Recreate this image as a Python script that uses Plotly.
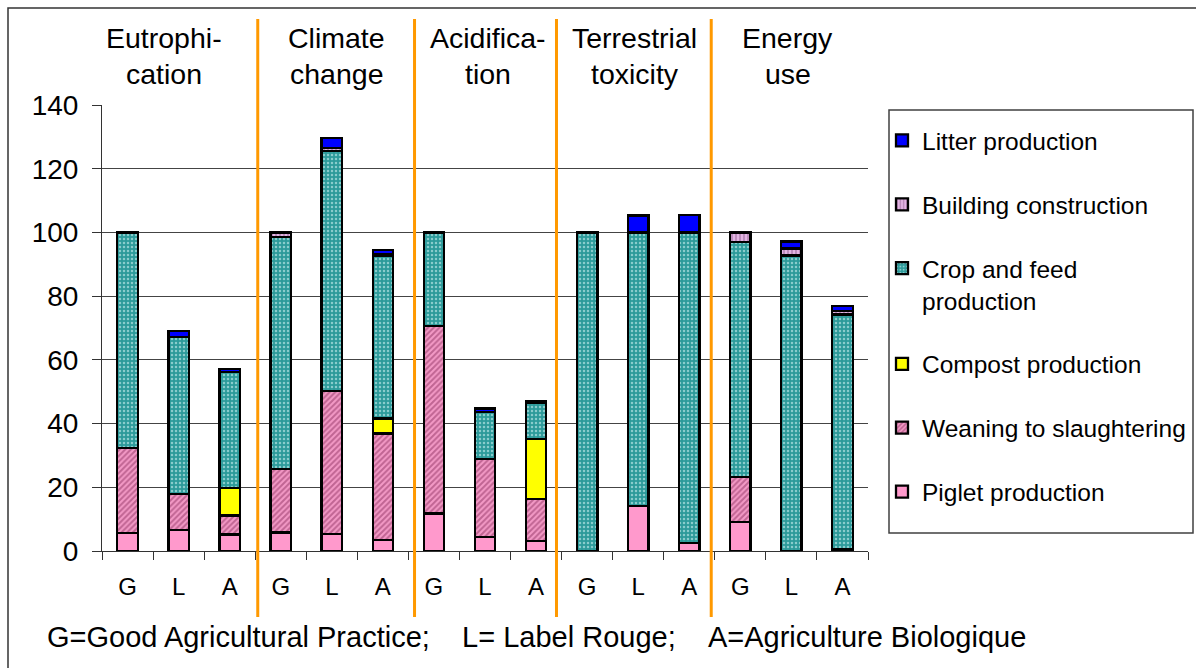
import plotly.graph_objects as go

# ---------------- data ----------------
categories = ["G", "L", "A"] * 5
title_line1 = ["Eutrophi-", "Climate", "Acidifica-", "Terrestrial", "Energy"]
title_line2 = ["cation", "change", "tion", "toxicity", "use"]

piglet   = [5.7, 6.7, 5.2,   5.8, 5.4, 3.5,   11.8, 4.5, 3.2,   None, 14.2, 2.6,  9.2, None, 0.3]
weaning  = [26.7, 11.2, 5.9, 19.9, 44.8, 33.4, 58.8, 24.3, 13.1, None, None, None, 14.1, None, 0.3]
compost  = [None, None, 8.6, None, None, 4.7,  None, None, 18.9, None, None, None, None, None, None]
crop     = [67.6, 49.2, 36.5, 72.8, 75.4, 51.2, 29.4, 14.9, 11.2, 100.0, 85.8, 97.4, 73.7, 92.8, 73.6]
building = [None, None, None, 1.5, 0.8, 0.4,   None, None, None, None, None, None, 3.0, 2.2, 1.2]
litter   = [None, 1.9, 1.0,  None, 3.2, 1.3,   None, 1.0, 0.7,  None, 5.3, 5.5,  None, 2.2, 1.5]

note = "G=Good Agricultural Practice;\u00a0\u00a0\u00a0\u00a0L= Label Rouge;\u00a0\u00a0\u00a0\u00a0A=Agriculture Biologique"

# ---------------- layout helpers ----------------
W, H = 1196, 668
PL, PR, PT, PB = 102, 868, 105, 551          # plot area in pixels
def px2x(px):
    return (px - PL) / (PR - PL)
def px2y(py):
    return (PB - py) / (PB - PT)

x = list(range(len(categories)))
FONT = "Arial, Liberation Sans, sans-serif"

series = [
    ("Piglet production", piglet, "#FF99CC", None),
    ("Weaning to slaughtering", weaning, "#FF99CC",
     dict(shape="/", bgcolor="#F39AC6", fgcolor="#8E2F60", size=4, solidity=0.5)),
    ("Compost production", compost, "#FFFF00", None),
    ("Crop and feed<br>production", crop, "#33A6A6",
     dict(shape=".", bgcolor="#2C9A9A", fgcolor="#E6FFFF", size=4, solidity=0.3)),
    ("Building construction", building, "#CC99CC",
     dict(shape="|", bgcolor="#E2B4E2", fgcolor="#8E5A8E", size=4, solidity=0.45)),
    ("Litter production", litter, "#0000FF", None),
]

fig = go.Figure()
n = len(series)
for i, (name, vals, color, pat) in enumerate(series):
    marker = dict(color=color, line=dict(color="black", width=2.3))
    if pat:
        marker["pattern"] = pat
    fig.add_trace(go.Bar(
        x=x, y=vals, name=name, marker=marker, width=0.40,
        legendgroup=f"g{i}", legendrank=n - i, hoverinfo="skip",
    ))

# invisible trace for boundary tick marks on overlaying axis
fig.add_trace(go.Scatter(x=[x[0]], y=[0], xaxis="x2", mode="markers",
                         marker=dict(opacity=0), showlegend=False, hoverinfo="skip"))

shapes = []
# orange separators
for sx in [2.55, 5.62, 8.40, 11.43]:
    shapes.append(dict(type="line", xref="x", yref="paper", x0=sx, x1=sx,
                       y0=px2y(617), y1=px2y(19),
                       line=dict(color="#FF9900", width=3)))
# legend box
shapes.append(dict(type="rect", xref="paper", yref="paper",
                   x0=px2x(889), x1=px2x(1193), y0=px2y(533), y1=px2y(110),
                   line=dict(color="#404040", width=1.5), fillcolor="rgba(0,0,0,0)", layer="below"))
# outer frame (extends past the figure edges on the right/bottom)
shapes.append(dict(type="rect", xref="paper", yref="paper",
                   x0=px2x(8), x1=px2x(1220), y0=px2y(700), y1=px2y(8),
                   line=dict(color="#333333", width=1.5), fillcolor="rgba(0,0,0,0)", layer="below"))

annotations = []
tx1 = [0.71, 4.10, 7.05, 9.93, 12.93]
for t1, t2, cx in zip(title_line1, title_line2, tx1):
    annotations.append(dict(x=cx, y=px2y(38), xref="x", yref="paper", text=t1,
                            showarrow=False, xanchor="center", yanchor="middle",
                            font=dict(size=28.5, color="black", family=FONT)))
    annotations.append(dict(x=cx, y=px2y(74), xref="x", yref="paper", text=t2,
                            showarrow=False, xanchor="center", yanchor="middle",
                            font=dict(size=28.5, color="black", family=FONT)))
annotations.append(dict(x=px2x(45), y=px2y(637), xref="paper", yref="paper", text=note,
                        showarrow=False, xanchor="left", yanchor="middle",
                        font=dict(size=29, color="black", family=FONT)))

fig.update_layout(
    width=W, height=H, autosize=False,
    margin=dict(l=PL, r=W - PR, t=PT, b=H - PB, pad=0, autoexpand=False),
    barmode="stack",
    plot_bgcolor="white", paper_bgcolor="white",
    font=dict(family=FONT, color="black"),
    xaxis=dict(range=[-0.5, 14.5], tickmode="array", tickvals=x, ticktext=categories,
               ticks="", showgrid=False, zeroline=False,
               showline=True, linecolor="#333333", linewidth=1,
               tickfont=dict(size=24, color="black", family=FONT),
               ticklabelstandoff=14),
    xaxis2=dict(overlaying="x", matches="x", anchor="y", side="bottom",
                tickmode="array", tickvals=[v - 0.5 for v in x] + [x[-1] + 0.5],
                ticks="outside", ticklen=8, tickcolor="#333333", tickwidth=1,
                showticklabels=False, showgrid=False, zeroline=False, showline=False),
    yaxis=dict(range=[0, 140], tickmode="linear", tick0=0, dtick=20,
               showgrid=True, gridcolor="#444444", gridwidth=1,
               zeroline=False, showline=True, linecolor="#333333", linewidth=1,
               ticks="outside", ticklen=9, tickcolor="#333333",
               tickfont=dict(size=28, color="black", family=FONT),
               ticklabelstandoff=8),
    legend=dict(xref="container", yref="container",
                x=882 / W, y=1 - 118 / H, xanchor="left", yanchor="top",
                maxheight=520,
                traceorder="grouped", tracegroupgap=29,
                valign="top", bgcolor="rgba(0,0,0,0)", borderwidth=0,
                font=dict(size=24.5, color="black", family=FONT)),
    shapes=shapes,
    annotations=annotations,
    showlegend=True,
)

fig.write_html(
    "out.html",
    config={"responsive": False, "displayModeBar": False},
    post_script="document.body.style.margin='0';document.body.style.overflow='hidden';",
)
